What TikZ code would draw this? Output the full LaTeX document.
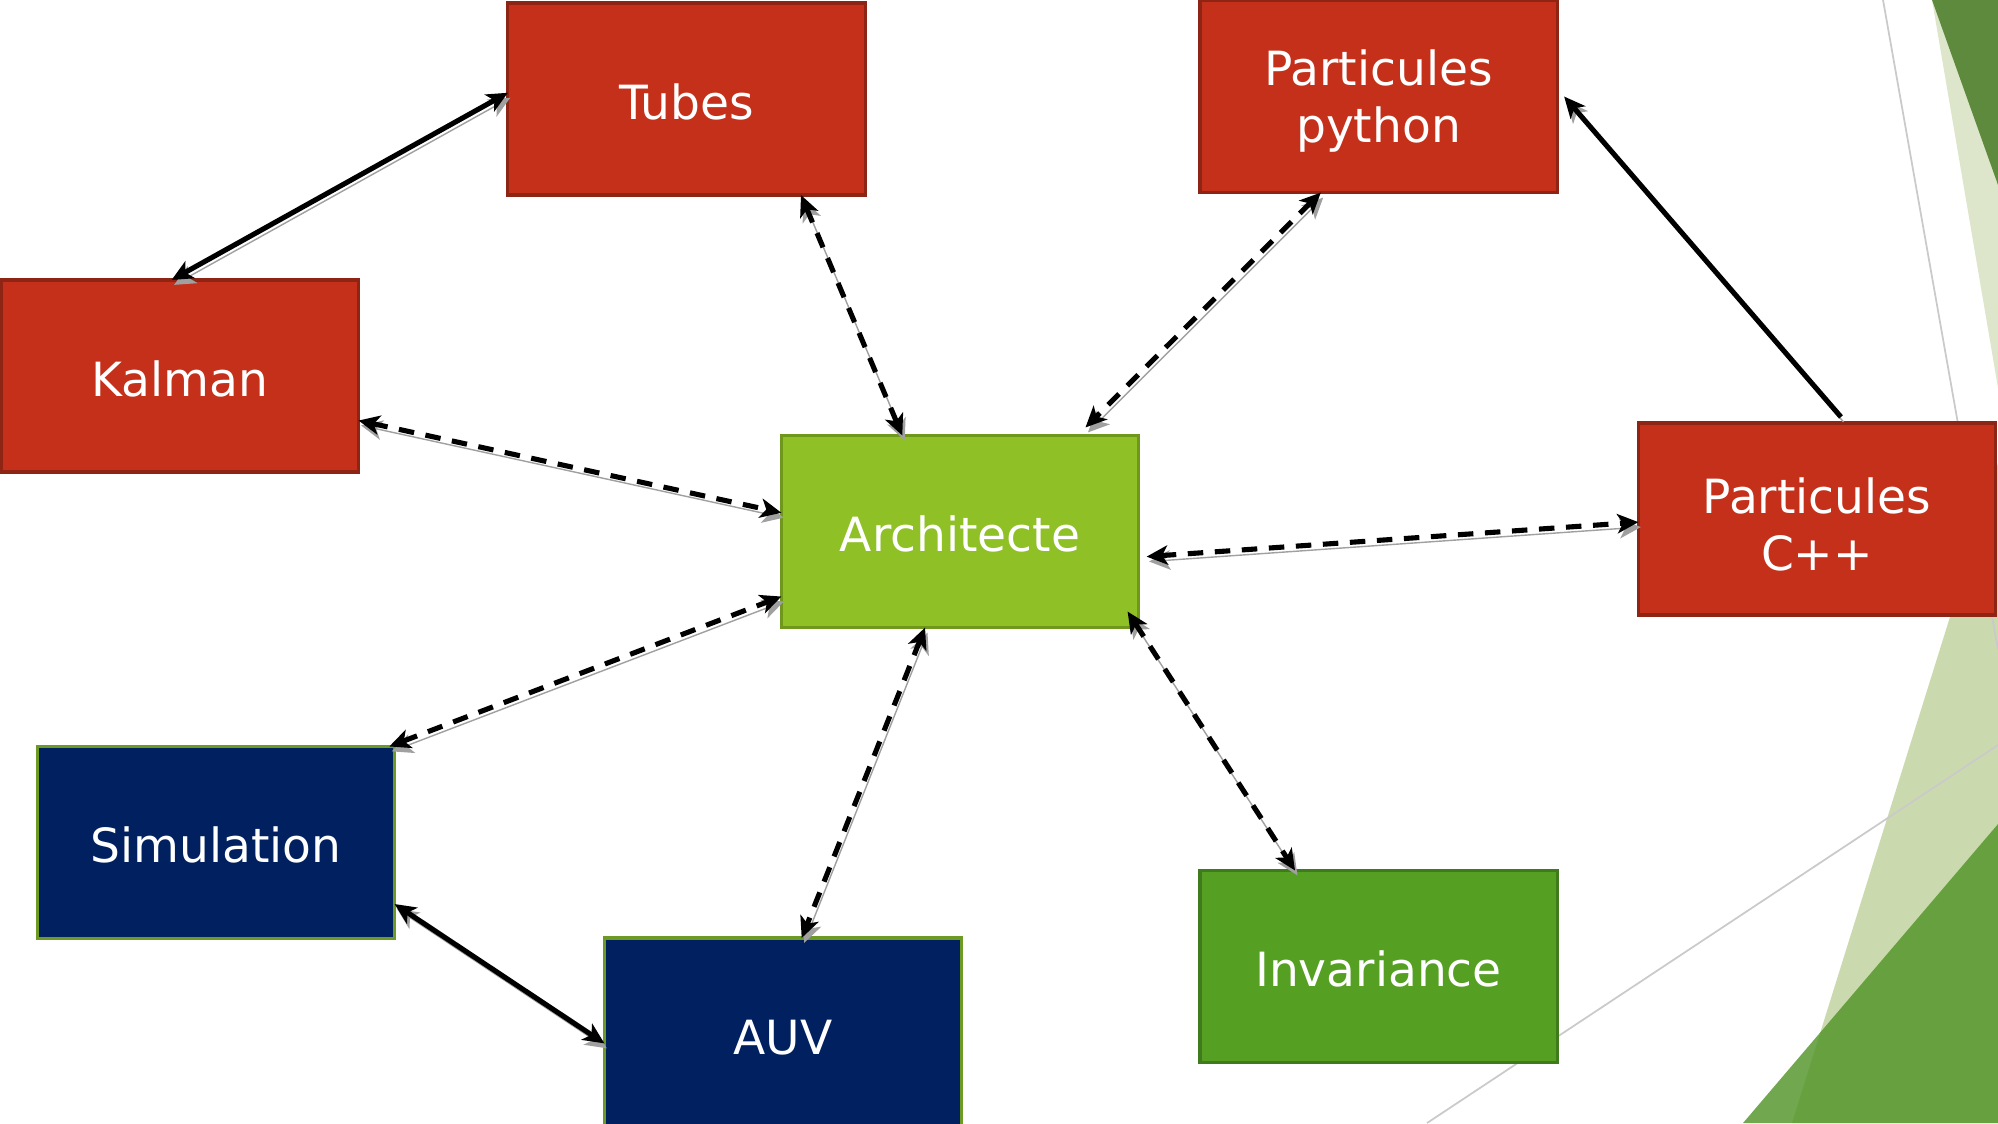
\documentclass[tikz,border=0pt]{standalone}
\usepackage{fontspec}
\setmainfont{DejaVu Sans}
\usetikzlibrary{arrows.meta,positioning}

\definecolor{boxred}{HTML}{C4301A}
\definecolor{boxredline}{HTML}{8E2414}
\definecolor{archgreen}{HTML}{8FC026}
\definecolor{archline}{HTML}{6E971C}
\definecolor{invgreen}{HTML}{55A023}
\definecolor{invline}{HTML}{3F7B1C}
\definecolor{boxnavy}{HTML}{002060}
\definecolor{navyline}{HTML}{6C9A24}
\definecolor{shadowgrey}{HTML}{A0A0A0}
\definecolor{palegreen}{HTML}{DDE6CA}
\definecolor{palegreenb}{HTML}{CBDAAE}
\definecolor{darkleaf}{HTML}{5E8A3E}
\definecolor{leaf}{RGB}{80,148,38}
\definecolor{thinline}{HTML}{CACACA}

\begin{document}
\begin{tikzpicture}[
	%	style def
	x=0.01cm, y=-0.01cm,
	>={Stealth[length=6pt,width=5.5pt,inset=1.6pt]},
	box/.style={draw, line width=0.9pt, minimum width=3.57cm, minimum height=1.92cm,
		inner sep=0pt, outer sep=0pt, text=white, align=center, text height=11.7pt,
		font=\fontsize{13.4}{16.2}\selectfont},
	twolines/.style={text height=29.2pt},
	redbox/.style={box, fill=boxred, draw=boxredline},
	navybox/.style={box, fill=boxnavy, draw=navyline},
	link/.style={line width=1.45pt, <->,
		preaction={draw=shadowgrey, transform canvas={shift={(0.7pt,-1.4pt)}}}},
	dashlink/.style={link, dash pattern=on 4.4pt off 3.3pt}
	]
	\useasboundingbox (0,0) rectangle (1998,1123);
	\clip (0,0) rectangle (1998,1123);

	% background facets on the right
	\fill[palegreen] (1932,0) -- (1998,0) -- (1998,388) -- cycle;
	\fill[darkleaf] (1932,0) -- (1998,0) -- (1998,185) -- cycle;
	\fill[palegreenb] (1998,463) -- (1998,1123) -- (1792,1123) -- cycle;
	\fill[leaf, opacity=0.81] (1743,1123) -- (1998,824) -- (1998,1123) -- cycle;
	\draw[thinline, line width=0.5pt] (1883,0) -- (1998,650);
	\draw[thinline, line width=0.5pt] (1427,1123) -- (1998,745);

	% boxes
	\node[redbox] (tubes) at (686.5,99) {Tubes};
	\node[redbox, twolines] (pypart) at (1378.5,96.5) {Particules\\python};
	\node[redbox] (kalman) at (180,376) {Kalman};
	\node[box, fill=archgreen, draw=archline] (archi) at (960,531.5) {Architecte};
	\node[redbox, twolines] (cpart) at (1817,519) {Particules\\C++};
	\node[navybox] (simu) at (216,842.5) {Simulation};
	\node[navybox] (auv) at (783,1034) {AUV};
	\node[box, fill=invgreen, draw=invline] (invar) at (1378.5,966.5) {Invariance};

	% plain links
	\draw[link] (kalman.95) -- (tubes.178);
	\draw[link, <-] ([shift={(7,0)}]pypart.east) -- ([shift={(0,-6)}]cpart.76);
	\draw[link] (simu.341) -- (auv.183);

	% dashed links to the architect
	\draw[dashlink] (kalman.346) -- (archi.174);
	\draw[dashlink] (tubes.320) -- (archi.121);
	\draw[dashlink] (pypart.239) -- ([shift={(-2,-8)}]archi.37);
	\draw[dashlink] ([shift={(8,0)}]archi.352) -- (cpart.181);
	\draw[dashlink] (simu.29) -- (archi.200);
	\draw[dashlink] (archi.250) -- (auv.79);
	\draw[dashlink] ([shift={(-11,-16)}]archi.south east) -- (invar.131);
\end{tikzpicture}
\end{document}
